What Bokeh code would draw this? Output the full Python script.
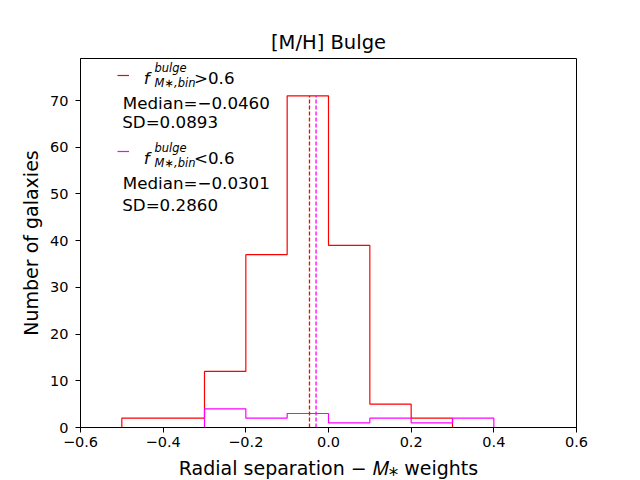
import numpy as np
from bokeh.plotting import figure
from bokeh.models import Label, Range1d, FixedTicker, Legend, LegendItem
from bokeh.embed import file_html
from bokeh.resources import INLINE

# ---- data ----
red_edges = [-0.5, -0.4, -0.3, -0.2, -0.1, 0.0, 0.1, 0.2, 0.3, 0.4, 0.5]
red_counts = [2, 2, 12, 37, 71, 39, 5, 2, 0, 0]
mag_edges = [-0.5, -0.4, -0.3, -0.2, -0.1, 0.0, 0.1, 0.2, 0.3, 0.4]
mag_counts = [0, 0, 4, 2, 3, 1, 2, 1, 2]
red_median = -0.0460
red_sd = 0.0893
mag_median = -0.0301
mag_sd = 0.2860
x_ticks = [-0.6, -0.4, -0.2, 0.0, 0.2, 0.4, 0.6]
x_tick_labels = ["−0.6", "−0.4", "−0.2", "0.0", "0.2", "0.4", "0.6"]
y_ticks = [0, 10, 20, 30, 40, 50, 60, 70]
y_tick_labels = ["0", "10", "20", "30", "40", "50", "60", "70"]

RED = "#ff0000"
MAG = "#ff00ff"
FONT = "DejaVu Sans"


def outline(edges, counts):
    xs = [edges[0]]
    ys = [0]
    for i, c in enumerate(counts):
        xs += [edges[i], edges[i + 1]]
        ys += [c, c]
    xs.append(edges[-1])
    ys.append(0)
    return xs, ys


p = figure(frame_width=496, frame_height=369,
           min_border_left=80, min_border_right=64,
           min_border_top=58, min_border_bottom=53,
           x_range=Range1d(-0.6, 0.6), y_range=Range1d(0, 79),
           output_backend="svg", toolbar_location=None,
           title="[M/H] Bulge")
p.background_fill_color = "white"
p.border_fill_color = "white"
p.grid.visible = False
p.outline_line_color = "black"
p.outline_line_alpha = 1.0
p.outline_line_width = 1

p.title.align = "center"
p.title.text_font = FONT
p.title.text_font_size = "19.5px"
p.title.text_font_style = "normal"
p.title.text_color = "black"

for ax in (p.xaxis[0], p.yaxis[0]):
    ax.axis_line_color = "black"
    ax.major_tick_line_color = "black"
    ax.major_tick_out = 5
    ax.major_tick_in = 0
    ax.minor_tick_line_color = None
    ax.major_label_text_font = FONT
    ax.major_label_text_font_size = "14.5px"
    ax.major_label_text_color = "black"
    ax.axis_label_text_font = FONT
    ax.axis_label_text_font_size = "19px"
    ax.axis_label_text_font_style = "normal"
    ax.axis_label_text_color = "black"

p.xaxis.ticker = FixedTicker(ticks=x_ticks)
p.xaxis.major_label_overrides = {t: l for t, l in zip(x_ticks, x_tick_labels)}
p.xaxis.major_label_standoff = 4
p.xaxis.axis_label = "Radial separation − 𝑀⁎ weights"
p.xaxis.axis_label_standoff = 7
p.yaxis.ticker = FixedTicker(ticks=y_ticks)
p.yaxis.major_label_overrides = {t: l for t, l in zip(y_ticks, y_tick_labels)}
p.yaxis.major_label_standoff = 7
p.yaxis.axis_label = "Number of galaxies"
p.yaxis.axis_label_standoff = 5

rx, ry = outline(red_edges, red_counts)
mx, my = outline(mag_edges, mag_counts)
r_red = p.line(rx, ry, line_color=RED, line_width=1.2)
r_mag = p.line(mx, my, line_color=MAG, line_width=1.2)

top = max(red_counts)
p.segment(x0=[red_median], y0=[0], x1=[red_median], y1=[top],
          line_color=RED, line_width=1.3, line_dash="4 2")
p.segment(x0=[mag_median], y0=[0], x1=[mag_median], y1=[top],
          line_color=MAG, line_width=1.3, line_dash="4 2")

# frame position in picture pixels: left 80, bottom 427
FL, FB = 80, 427
DY = -5.5  # baseline correction


def lab(text, X, Y, size, style="normal", color="black"):
    p.add_layout(Label(x=X - FL, y=FB - (Y + DY), x_units="screen", y_units="screen",
                       text=text, text_font=FONT, text_font_size=f"{size}px",
                       text_font_style=style, text_baseline="alphabetic",
                       text_align="left", text_color=color))


def fmt(v):
    return f"{v:.4f}".replace("-", "−")


# legend handles (short lines)
for r, Y in ((r_red, 75), (r_mag, 151)):
    leg = Legend(items=[LegendItem(label=" ", renderers=[r])],
                 location=(117.3 - FL, FB - Y - 2),
                 padding=0, margin=0, spacing=0,
                 glyph_width=12, glyph_height=4,
                 label_width=0, label_height=4, label_standoff=0,
                 label_text_font_size="1px",
                 border_line_color=None, background_fill_alpha=0)
    p.add_layout(leg)

# legend texts
for base, sign, med, sd, mline, sline in ((82.5, ">0.6", red_median, red_sd, 108.3, 127.7),
                                          (162.5, "<0.6", mag_median, mag_sd, 188.3, 211.0)):
    lab("f", 143.3, base, 16.7, "italic")
    lab("bulge", 154, base - 9.5, 11.5, "italic")
    lab("M∗,bin", 154, base + 5, 11.5, "italic")
    lab(sign, 193.5, base, 16.7)
    lab("Median=" + fmt(med), 122.3, mline, 16.7)
    lab("SD=" + fmt(sd), 121.7, sline - 1, 16.7)

open("out.html", "w").write(file_html(p, INLINE))
